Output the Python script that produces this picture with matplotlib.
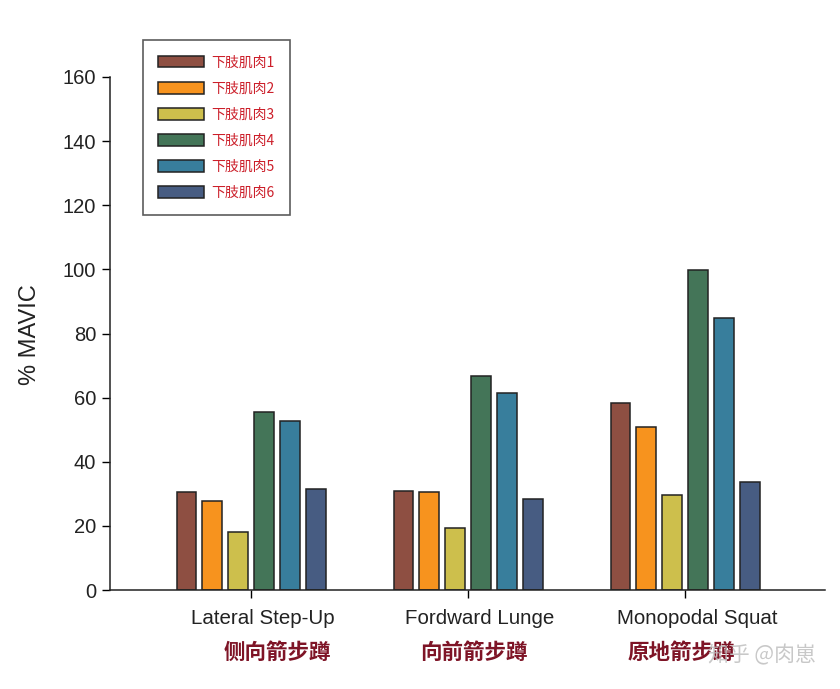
import matplotlib
matplotlib.use("Agg")
import matplotlib.pyplot as plt
import matplotlib.transforms as mtransforms
import numpy as np

categories = ["Lateral Step-Up", "Fordward Lunge", "Monopodal Squat"]
categories_cn = ["侧向箭步蹲", "向前箭步蹲", "原地箭步蹲"]
series_names = ["下肢肌肉1", "下肢肌肉2", "下肢肌肉3", "下肢肌肉4", "下肢肌肉5", "下肢肌肉6"]
muscle1 = [30.6, 30.9, 58.3]
muscle2 = [27.8, 30.6, 50.8]
muscle3 = [18.1, 19.3, 29.6]
muscle4 = [55.5, 66.8, 99.8]
muscle5 = [52.7, 61.4, 84.8]
muscle6 = [31.5, 28.4, 33.7]
series = [muscle1, muscle2, muscle3, muscle4, muscle5, muscle6]
colors = ["#8E4F42", "#F7931E", "#CDBF4C", "#447558", "#387E9C", "#475C82"]
yticks = [0, 20, 40, 60, 80, 100, 120, 140, 160]

plt.rcParams['font.family'] = ['Liberation Sans', 'Noto Sans CJK SC', 'DejaVu Sans']

fig = plt.figure(figsize=(8.4, 6.89), dpi=100)
W, H = 840, 689
ax = fig.add_axes([110 / W, 1 - 590 / H, (825 - 110) / W, (590 - 77) / H])

x = np.arange(len(categories))
step = 0.119
width = 0.092
handles = []
for i, (vals, c) in enumerate(zip(series, colors)):
    b = ax.bar(x + (i - 2.5) * step, vals, width=width, color=c,
               edgecolor="#222222", linewidth=1.1, label=series_names[i], zorder=2)
    handles.append(b)

ax.set_xlim(-0.650, 2.645)
ax.set_ylim(0, 160)
ax.set_yticks(yticks)
ax.set_yticklabels([str(v) for v in yticks], fontsize=14.5, color="#222222")
ax.set_xticks(x)
ax.set_xticklabels(categories, fontsize=14.8, color="#222222")
ax.tick_params(axis="y", direction="out", length=6, width=1, pad=4)
ax.tick_params(axis="x", direction="out", length=6, width=1, pad=8)
offset = mtransforms.ScaledTranslation(12 / 100, 0, fig.dpi_scale_trans)
for lbl in ax.get_xticklabels():
    lbl.set_transform(lbl.get_transform() + offset)
for s in ["top", "right"]:
    ax.spines[s].set_visible(False)
ax.spines["left"].set_linewidth(1.1)
ax.spines["bottom"].set_linewidth(1.1)
ax.spines["left"].set_color("#222222")
ax.spines["bottom"].set_color("#222222")

fig.text(30 / W, 1 - 335 / H, "% MAVIC", rotation=90, fontsize=17,
         ha="center", va="center", color="#222222")

leg = ax.legend(handles=handles, loc="upper left",
                bbox_to_anchor=((143 - 110) / (825 - 110), (590 - 40) / (590 - 77)),
                fontsize=10, frameon=True, fancybox=False, edgecolor="#333333",
                handlelength=3.3, handleheight=0.95, borderpad=1.1, labelspacing=0.87,
                handletextpad=0.55, borderaxespad=0)
leg.get_frame().set_linewidth(1.2)
for t in leg.get_texts():
    t.set_color("#CC1F2A")
    t.set_family(['Noto Sans CJK SC', 'DejaVu Sans'])

cn_x = [277, 474, 681]
for cx, lab in zip(cn_x, categories_cn):
    fig.text(cx / W, 1 - 652 / H, lab, fontsize=15.5, fontweight="bold",
             ha="center", va="center", color="#7E1426",
             family=['Noto Sans CJK SC', 'DejaVu Sans'])

fig.text(762 / W, 1 - 655 / H, "知乎 @肉崽", fontsize=15, ha="center", va="center",
         color="#BBBBBB", alpha=0.8, family=['Noto Sans CJK SC', 'DejaVu Sans'])

fig.savefig("out.png", dpi=100)
